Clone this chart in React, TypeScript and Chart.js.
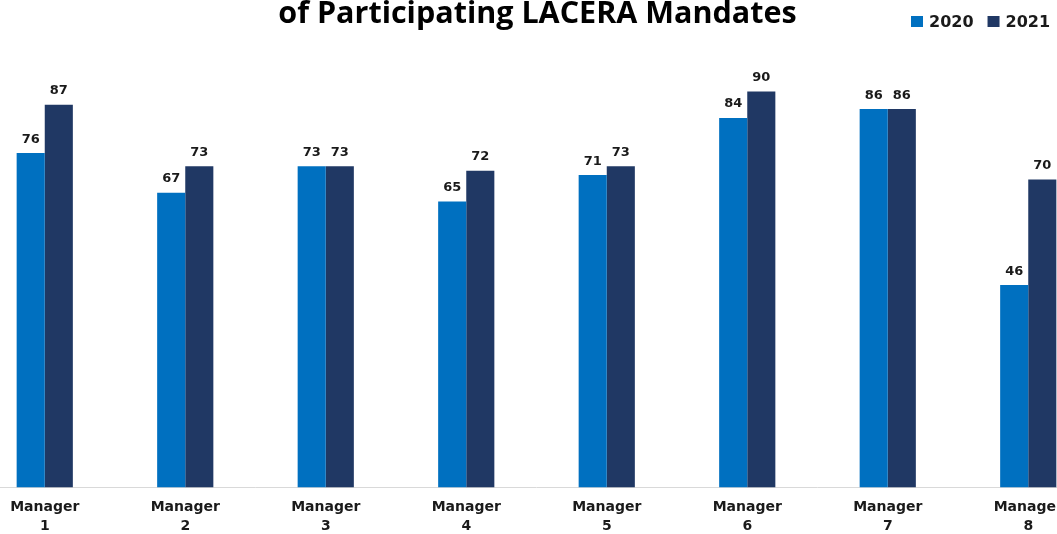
import { useEffect, useRef } from "react";
import { Chart, registerables } from "chart.js";

Chart.register(...registerables);

const categories: string[][] = [
  ["Manager", "1"],
  ["Manager", "2"],
  ["Manager", "3"],
  ["Manager", "4"],
  ["Manager", "5"],
  ["Manager", "6"],
  ["Manager", "7"],
  ["Manager", "8"],
];
const series2020 = [76, 67, 73, 65, 71, 84, 86, 46];
const series2021 = [87, 73, 73, 72, 73, 90, 86, 70];
const seriesNames = ["2020", "2021"];
const seriesColors = ["#0070C0", "#203864"];
const titleText = "of Participating LACERA Mandates";
const yMin = 0;
const yMax = 100;

const OFFSET_LEFT = 40;
const CANVAS_W = 1155;
const CANVAS_H = 534;

const labelPlugin = {
  id: "valueLabels",
  afterDatasetsDraw(chart: any) {
    const ctx = chart.ctx;
    ctx.save();
    ctx.font = "bold 13px 'DejaVu Sans'";
    ctx.fillStyle = "#1a1a1a";
    ctx.textAlign = "center";
    ctx.textBaseline = "alphabetic";
    chart.data.datasets.forEach((ds: any, i: number) => {
      const meta = chart.getDatasetMeta(i);
      meta.data.forEach((bar: any, j: number) => {
        ctx.fillText(String(ds.data[j]), bar.x, bar.y - 10.5);
      });
    });
    ctx.restore();
  },
};

const headerPlugin = {
  id: "header",
  afterDraw(chart: any) {
    const ctx = chart.ctx;
    ctx.save();
    ctx.fillStyle = "#000000";
    ctx.font = "bold 30.5px 'Open Sans'";
    ctx.textAlign = "center";
    ctx.textBaseline = "alphabetic";
    ctx.fillText(titleText, chart.width / 2, 23);

    ctx.font = "bold 16px 'DejaVu Sans'";
    ctx.textAlign = "left";
    let x = 911 + OFFSET_LEFT;
    chart.data.datasets.forEach((ds: any) => {
      ctx.fillStyle = ds.backgroundColor;
      ctx.fillRect(x, 16, 12, 11);
      x += 18;
      ctx.fillStyle = "#1a1a1a";
      ctx.fillText(ds.label, x, 27);
      x += ctx.measureText(ds.label).width + 14;
    });
    ctx.restore();
  },
};

export default function App() {
  const canvasRef = useRef<HTMLCanvasElement | null>(null);

  useEffect(() => {
    document.body.style.margin = "0";
    const canvas = canvasRef.current;
    if (!canvas) return;
    const chart = new Chart(canvas, {
      type: "bar",
      data: {
        labels: categories,
        datasets: [
          {
            label: seriesNames[0],
            data: series2020,
            backgroundColor: seriesColors[0],
            categoryPercentage: 0.4,
            barPercentage: 1.0,
          },
          {
            label: seriesNames[1],
            data: series2021,
            backgroundColor: seriesColors[1],
            categoryPercentage: 0.4,
            barPercentage: 1.0,
          },
        ],
      },
      options: {
        responsive: true,
        maintainAspectRatio: false,
        devicePixelRatio: 1,
        animation: false,
        layout: {
          padding: { left: 14.5, right: 16.5, top: 47.5, bottom: 0 },
        },
        plugins: {
          legend: { display: false },
          title: { display: false },
          tooltip: { enabled: false },
        },
        scales: {
          x: {
            grid: { display: false, drawTicks: false },
            border: { display: true, color: "#d9d9d9", width: 1 },
            ticks: {
              color: "#1a1a1a",
              font: { family: "'DejaVu Sans'", size: 14, weight: "bold", lineHeight: 1.357 },
              padding: 10.5,
              maxRotation: 0,
              autoSkip: false,
            },
            afterFit(scale: any) {
              scale.height = 46.5;
            },
          },
          y: {
            display: false,
            min: yMin,
            max: yMax,
          },
        },
      },
      plugins: [labelPlugin, headerPlugin],
    } as any);
    return () => chart.destroy();
  }, []);

  return (
    <div
      style={{
        position: "fixed",
        left: 0,
        top: 0,
        width: 1057,
        height: 534,
        overflow: "hidden",
        background: "#ffffff",
      }}
    >
      <div
        style={{
          position: "absolute",
          left: -OFFSET_LEFT,
          top: 0,
          width: CANVAS_W,
          height: CANVAS_H,
        }}
      >
        <canvas ref={canvasRef} />
      </div>
    </div>
  );
}
